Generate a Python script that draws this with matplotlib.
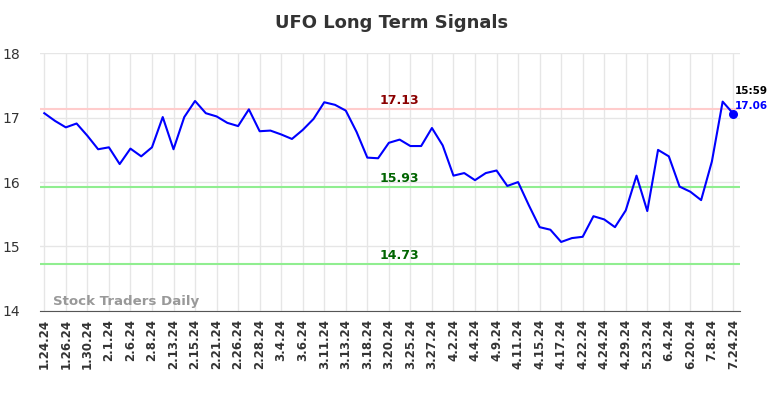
import matplotlib.pyplot as plt

tickLabels = ['1.24.24', '1.26.24', '1.30.24', '2.1.24', '2.6.24', '2.8.24', '2.13.24',
              '2.15.24', '2.21.24', '2.26.24', '2.28.24', '3.4.24', '3.6.24', '3.11.24',
              '3.13.24', '3.18.24', '3.20.24', '3.25.24', '3.27.24', '4.2.24', '4.4.24',
              '4.9.24', '4.11.24', '4.15.24', '4.17.24', '4.22.24', '4.24.24', '4.29.24',
              '5.23.24', '6.4.24', '6.20.24', '7.8.24', '7.24.24']

prices = [17.07, 16.95, 16.85, 16.91, 16.72, 16.51, 16.54, 16.28, 16.52, 16.40,
          16.54, 17.01, 16.51, 17.01, 17.26, 17.07, 17.02, 16.92, 16.87, 17.13,
          16.79, 16.80, 16.74, 16.67, 16.81, 16.98, 17.24, 17.20, 17.11, 16.78,
          16.38, 16.37, 16.61, 16.66, 16.56, 16.56, 16.84, 16.57, 16.10, 16.14,
          16.03, 16.14, 16.18, 15.94, 16.00, 15.64, 15.30, 15.26, 15.07, 15.13,
          15.15, 15.47, 15.42, 15.30, 15.56, 16.10, 15.55, 16.50, 16.40, 15.93,
          15.85, 15.72, 16.32, 17.25, 17.06]

resistance = 17.13
supports = [15.93, 14.73]
lastTime = '15:59'

fig = plt.figure(figsize=(7.84, 3.98), dpi=100)
ax = fig.add_axes([0.051, 0.219, 0.893, 0.647])

xs = list(range(len(prices)))
ax.plot(xs, prices, color='blue', linewidth=1.5, zorder=3)
ax.scatter([xs[-1]], [prices[-1]], color='blue', s=30, zorder=4)

ax.axhline(resistance, color='#ffcccc', linewidth=1.5, zorder=2)
for s in supports:
    ax.axhline(s, color='#90ee90', linewidth=1.5, zorder=2)

midX = 33
ax.text(midX, resistance + 0.03, f'{resistance:.2f}', color='darkred', fontsize=9,
        fontweight='bold', ha='center', va='bottom')
for s in supports:
    ax.text(midX, s + 0.03, f'{s:.2f}', color='darkgreen', fontsize=9,
            fontweight='bold', ha='center', va='bottom')

ax.text(xs[-1] + 0.1, prices[-1] + 0.27, lastTime, color='black', fontsize=7.5,
        fontweight='bold', ha='left', va='bottom')
ax.text(xs[-1] + 0.1, prices[-1] + 0.05, f'{prices[-1]:.2f}', color='blue', fontsize=7.5,
        fontweight='bold', ha='left', va='bottom')

ax.text(0.8, 14.04, 'Stock Traders Daily', color='#999999', fontsize=9.6,
        fontweight='bold', ha='left', va='bottom')

ax.set_xlim(-0.4, 64.62)
ax.set_ylim(14, 18)
ax.set_xticks(xs[::2])
ax.set_xticklabels(tickLabels, rotation=90, fontsize=8.5, fontweight='bold', color='#333333')
ax.set_yticks([14, 15, 16, 17, 18])
ax.tick_params(axis='y', labelsize=10, colors='#333333', length=0, pad=14)
ax.tick_params(axis='x', length=0, pad=6)
ax.grid(True, color='#e6e6e6', linewidth=1)
ax.set_axisbelow(True)
for side in ['top', 'right', 'left']:
    ax.spines[side].set_visible(False)
ax.spines['bottom'].set_color('#555555')

fig.suptitle('UFO Long Term Signals', fontsize=13, fontweight='bold', color='#333333', y=0.965)

fig.savefig('out.png', dpi=100)
